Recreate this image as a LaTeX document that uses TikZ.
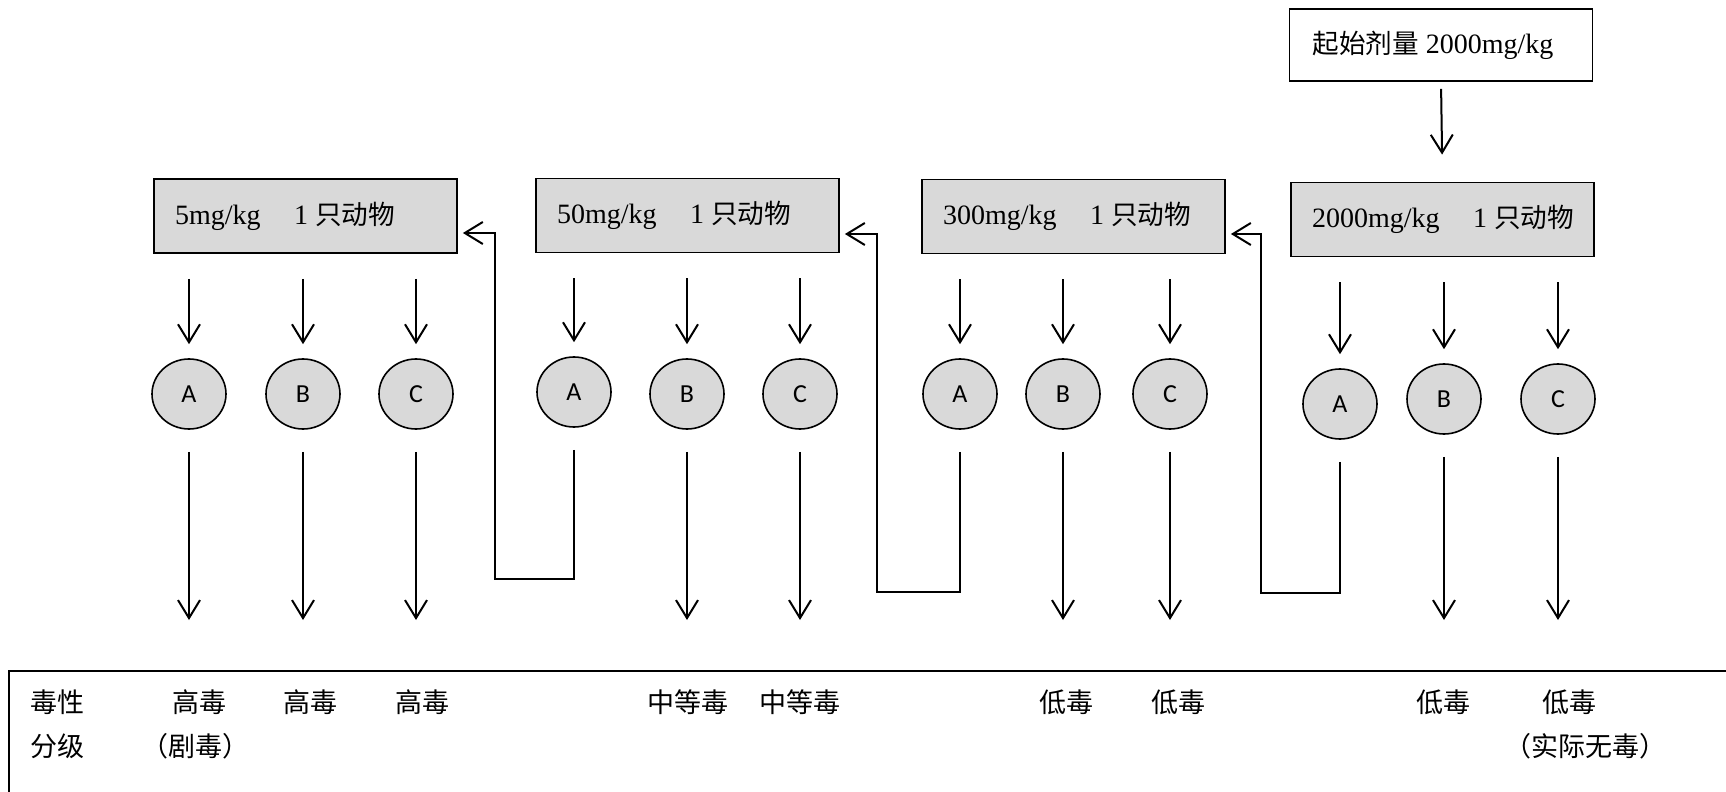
\documentclass[tikz,border=0pt]{standalone}
\usepackage{fontspec}
\setmainfont{Liberation Serif}
\newfontfamily\cjk{Noto Sans CJK SC}
\newfontfamily\circfont{Carlito}
\usetikzlibrary{arrows.meta,shapes.geometric}
\definecolor{boxgray}{HTML}{D9D9D9}
\newcommand{\boxtext}[1]{\raisebox{-1.6pt}{\makebox[130.5pt][l]{#1}}}
\newcommand{\zh}[1]{{\cjk\fontsize{13.3}{16}\selectfont #1}}
\begin{document}
\begin{tikzpicture}[x=0.5pt,y=-0.5pt,
  gbox/.style={draw, line width=0.9pt, fill=boxgray, minimum width=151.5pt, minimum height=37pt,
    inner xsep=10.5pt, font=\fontsize{14}{16}\selectfont},
  wbox/.style={gbox, fill=white, minimum height=36pt},
  circ/.style={draw, line width=0.8pt, fill=boxgray, ellipse, minimum width=37pt, minimum height=35pt,
    inner sep=0pt, font=\circfont\fontsize{13}{15}\selectfont},
  arr/.style={line width=1pt, -{Straight Barb[length=9pt,width=11pt,line width=1pt]}},
  sarr/.style={arr, shorten <=12.5pt, shorten >=7pt},
  larr/.style={arr, shorten <=11pt, shorten >=25.5pt},
  farr/.style={arr, shorten <=11pt, shorten >=2.5pt},
  lbl/.style={inner sep=0pt, font=\cjk\fontsize{13.5}{16}\selectfont}
]
\useasboundingbox (0,0) rectangle (1726,792);

% boxes
\node[wbox] (start) at (1441,45) {\boxtext{\hspace{1pt}\zh{起始剂量} 2000mg/kg}};
\node[gbox] (b1) at (305.5,216) {\boxtext{5mg/kg\hspace{1.2em}1 \zh{只动物}}};
\node[gbox] (b2) at (687.5,215.5) {\boxtext{50mg/kg\hspace{1.2em}1 \zh{只动物}}};
\node[gbox] (b3) at (1073.5,216.5) {\boxtext{300mg/kg\hspace{1.2em}1 \zh{只动物}}};
\node[gbox] (b4) at (1442.5,219.5) {\boxtext{2000mg/kg\hspace{1.2em}1 \zh{只动物}}};

% circles
\node[circ] (A1) at (189,394) {A};
\node[circ] (B1) at (303,394) {B};
\node[circ] (C1) at (416,394) {C};
\node[circ] (A2) at (574,392) {A};
\node[circ] (B2) at (687,394) {B};
\node[circ] (C2) at (800,394) {C};
\node[circ] (A3) at (960,394) {A};
\node[circ] (B3) at (1063,394) {B};
\node[circ] (C3) at (1170,394) {C};
\node[circ] (A4) at (1340,404) {A};
\node[circ] (B4) at (1444,399) {B};
\node[circ] (C4) at (1558,399) {C};

% table
\coordinate (tabtop) at (9,671);
\draw[line width=1.3pt] (9,800) -- (tabtop) -- (1740,671);

% start arrow
\draw[arr, shorten <=3.5pt, shorten >=13.5pt] (start.south) -- (b4.north);

% short arrows
\foreach \b/\c in {b1/A1,b1/B1,b1/C1,b2/A2,b2/B2,b2/C2,b3/A3,b3/B3,b3/C3,b4/A4,b4/B4,b4/C4}
  \draw[sarr] (\b.south -| \c) -- (\c.north);

% long arrows
\foreach \c in {A1,B1,C1,B2,C2,B3,C3,B4,C4}
  \draw[larr] (\c.south) -- (\c |- tabtop);

% feedback connectors
\coordinate (k2) at (495,579);
\coordinate (k3) at (877,592);
\coordinate (k4) at (1261,593);
\draw[farr] (A2.south) |- (k2) |- ([yshift=-8.5pt]b1.east);
\draw[farr] (A3.south) |- (k3) |- ([yshift=-9.25pt]b2.east);
\draw[farr] (A4.south) |- (k4) |- ([yshift=-8.75pt]b3.east);

% labels
\node[lbl] (t0a) at (58,702) {毒性};
\node[lbl] (t0b) at (58,746) {分级};
\node[lbl] (t1) at (199,702) {高毒};
\node[lbl] (t1b) at (195,746) {（剧毒）};
\node[lbl] (t2) at (310,702) {高毒};
\node[lbl] (t3) at (422,702) {高毒};
\node[lbl] (t5) at (688,702) {中等毒};
\node[lbl] (t6) at (800,702) {中等毒};
\node[lbl] (t8) at (1066,702) {低毒};
\node[lbl] (t9) at (1178,702) {低毒};
\node[lbl] (t11) at (1443,702) {低毒};
\node[lbl] (t12) at (1569,702) {低毒};
\node[lbl] (t12b) at (1585,746) {（实际无毒）};
\end{tikzpicture}
\end{document}
